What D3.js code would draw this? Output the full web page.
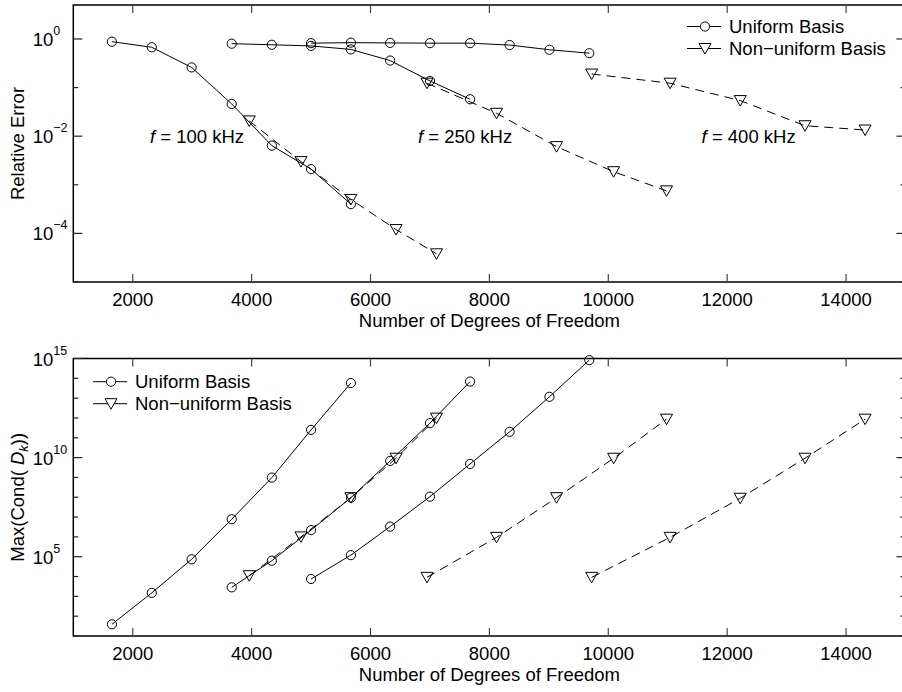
<!DOCTYPE html>
<html>
<head>
<meta charset="utf-8">
<script src="https://cdn.jsdelivr.net/npm/d3@7"></script>
<style>
  body { margin: 0; background: #fff; }
  text { font-family: "Liberation Sans", Arial, Helvetica, sans-serif; fill: #000; }
</style>
</head>
<body>
<svg id="chart" width="902" height="692"></svg>
<script>
// ---- data ----
const xTicks = [2000, 4000, 6000, 8000, 10000, 12000, 14000];

// degrees of freedom per run
const dofU100 = [1650, 2320, 2990, 3665, 4340, 5000, 5670];
const dofU250 = [3665, 4340, 5000, 5670, 6330, 7000, 7675];
const dofU400 = [5000, 5670, 6330, 7000, 7675, 8340, 9010, 9680];
const dofN100 = [3960, 4830, 5670, 6430, 7110];
const dofN250 = [6950, 8120, 9130, 10090, 10980];
const dofN400 = [9720, 11040, 12220, 13310, 14320];

// relative error (top panel)
const errU100 = [0.88, 0.675, 0.26, 0.046, 0.0064, 0.0021, 0.0004];
const errU250 = [0.80, 0.76, 0.72, 0.61, 0.36, 0.137, 0.0575];
const errU400 = [0.82, 0.84, 0.83, 0.82, 0.82, 0.75, 0.60, 0.51];
const errN100 = [0.0206, 0.003, 0.0005, 0.00012, 0.000038];
const errN250 = [0.123, 0.0296, 0.0061, 0.00186, 0.00075];
const errN400 = [0.19, 0.123, 0.054, 0.0164, 0.0134];

// max condition number (bottom panel)
const condU100 = [3.9e1, 1.5e3, 7.4e4, 7.8e6, 9.8e8, 2.5e11, 5.8e13];
const condU250 = [2.85e3, 6.3e4, 2.2e6, 9.5e7, 6.8e9, 5.5e11, 6.9e13];
const condU400 = [7.5e3, 1.2e5, 3.3e6, 1.07e8, 4.8e9, 2.0e11, 1.17e13, 8.3e14];
const condN100 = [1.1e4, 1.0e6, 9.5e7, 9.3e9, 9.8e11];
const condN250 = [9.1e3, 9.5e5, 9.5e7, 9.3e9, 8.7e11];
const condN400 = [9.1e3, 9.5e5, 8.9e7, 9.3e9, 8.7e11];

const freqLabels = ["100", "250", "400"];
const freqLabelX = [2290, 6800, 11570];
const freqLabelY = 1e-2;

const legendLabels = ["Uniform Basis", "Non\u2212uniform Basis"];

// ---- layout ----
const FONT = 18.5;
const svg = d3.select("#chart");
const x = d3.scaleLinear().domain([1000, 15000]).range([73.3, 905.5]);

const zip = (xs, ys) => xs.map((d, i) => ({ x: d, y: ys[i] }));

const panels = [
  {
    top: 5, bottom: 282, domain: [1e-5, 5], decades: d3.range(-5, 1), labelled: [0, -2, -4],
    uni: [zip(dofU100, errU100), zip(dofU250, errU250), zip(dofU400, errU400)],
    non: [zip(dofN100, errN100), zip(dofN250, errN250), zip(dofN400, errN400)],
    ytitle: "Relative Error", legend: { x: 687, y: 26.5 }
  },
  {
    top: 358.5, bottom: 636, domain: [10, 1e15], decades: d3.range(1, 16), labelled: [5, 10, 15],
    uni: [zip(dofU100, condU100), zip(dofU250, condU250), zip(dofU400, condU400)],
    non: [zip(dofN100, condN100), zip(dofN250, condN250), zip(dofN400, condN400)],
    ytitle: null, legend: { x: 93, y: 381.7 }
  }
];

function triPath(cx, cy) {
  return `M${cx - 6},${cy - 5}L${cx + 6},${cy - 5}L${cx},${cy + 5.5}Z`;
}

panels.forEach((p, pi) => {
  const y = d3.scaleLog().domain(p.domain).range([p.bottom, p.top]);
  const g = svg.append("g");
  const x0 = x.range()[0], x1 = x.range()[1];

  const line = d3.line().x(d => x(d.x)).y(d => y(d.y));

  // non-uniform (dashed, triangles)
  p.non.forEach(s => {
    g.append("path").datum(s).attr("d", line)
      .attr("fill", "none").attr("stroke", "#000").attr("stroke-width", 1)
      .attr("stroke-dasharray", "9,6");
    g.selectAll(null).data(s).join("path")
      .attr("d", d => triPath(x(d.x), y(d.y)))
      .attr("fill", "none").attr("stroke", "#000").attr("stroke-width", 1);
  });

  // uniform (solid, circles)
  p.uni.forEach(s => {
    g.append("path").datum(s).attr("d", line)
      .attr("fill", "none").attr("stroke", "#000").attr("stroke-width", 1);
    g.selectAll(null).data(s).join("circle")
      .attr("cx", d => x(d.x)).attr("cy", d => y(d.y)).attr("r", 4.6)
      .attr("fill", "none").attr("stroke", "#000").attr("stroke-width", 1);
  });

  // box
  g.append("rect").attr("x", x0).attr("y", p.top)
    .attr("width", x1 - x0).attr("height", p.bottom - p.top)
    .attr("fill", "none").attr("stroke", "#000").attr("stroke-width", 1.5);

  // x ticks (inside, top and bottom)
  xTicks.forEach(t => {
    g.append("line").attr("x1", x(t)).attr("x2", x(t)).attr("y1", p.bottom).attr("y2", p.bottom - 8)
      .attr("stroke", "#444").attr("stroke-width", 1.2);
    g.append("line").attr("x1", x(t)).attr("x2", x(t)).attr("y1", p.top).attr("y2", p.top + 8)
      .attr("stroke", "#444").attr("stroke-width", 1.2);
    g.append("text").attr("x", x(t)).attr("y", p.bottom + 24)
      .attr("text-anchor", "middle").attr("font-size", FONT).text(t);
  });
  g.append("text").attr("x", (x0 + x1) / 2).attr("y", p.bottom + 44.5)
    .attr("text-anchor", "middle").attr("font-size", FONT).text("Number of Degrees of Freedom");

  // y ticks every decade, longer where labelled
  p.decades.forEach(e => {
    const yy = y(Math.pow(10, e));
    const major = p.labelled.includes(e);
    const len = major ? 9 : 5;
    g.append("line").attr("x1", x0).attr("x2", x0 + len).attr("y1", yy).attr("y2", yy)
      .attr("stroke", "#222").attr("stroke-width", 1.2);
    g.append("line").attr("x1", x1).attr("x2", x1 - len).attr("y1", yy).attr("y2", yy)
      .attr("stroke", "#222").attr("stroke-width", 1.2);
    if (major) {
      const lab = g.append("text").attr("x", x0 - 20).attr("y", yy + 7)
        .attr("text-anchor", "end").attr("font-size", FONT).text("10");
      g.append("text").attr("x", x0 - 20).attr("y", yy - 4)
        .attr("font-size", 12.5).text(String(e).replace("-", "\u2212"));
    }
  });

  // y title
  const yt = g.append("text")
    .attr("transform", `translate(24,${(p.top + p.bottom) / 2}) rotate(-90)`)
    .attr("text-anchor", "middle").attr("font-size", FONT);
  if (p.ytitle) {
    yt.text(p.ytitle);
  } else {
    yt.append("tspan").text("Max(Cond( ");
    yt.append("tspan").attr("font-style", "italic").text("D");
    yt.append("tspan").attr("font-style", "italic").attr("font-size", 13).attr("dy", 4).text("k");
    yt.append("tspan").attr("dy", -4).text("))");
  }

  // legend
  const lg = g.append("g").attr("transform", `translate(${p.legend.x},${p.legend.y})`);
  legendLabels.forEach((lab, i) => {
    const row = lg.append("g").attr("transform", `translate(0,${i * 22})`);
    row.append("line").attr("x1", 0).attr("x2", 34).attr("y1", 0).attr("y2", 0)
      .attr("stroke", "#000").attr("stroke-width", 1);
    if (i === 0) {
      row.append("circle").attr("cx", 18).attr("cy", 0).attr("r", 4.6)
        .attr("fill", "#fff").attr("stroke", "#000");
    } else {
      row.append("path").attr("d", triPath(18, 0)).attr("fill", "#fff").attr("stroke", "#000");
    }
    row.append("text").attr("x", 42).attr("y", 6.5).attr("font-size", FONT).text(lab);
  });

  // frequency annotations (top only)
  if (pi === 0) {
    freqLabels.forEach((f, i) => {
      const t = g.append("text").attr("x", x(freqLabelX[i])).attr("y", y(freqLabelY) + 6.5)
        .attr("font-size", FONT);
      t.append("tspan").attr("font-style", "italic").text("f");
      t.append("tspan").text(` = ${f} kHz`);
    });
  }
});
</script>
</body>
</html>
